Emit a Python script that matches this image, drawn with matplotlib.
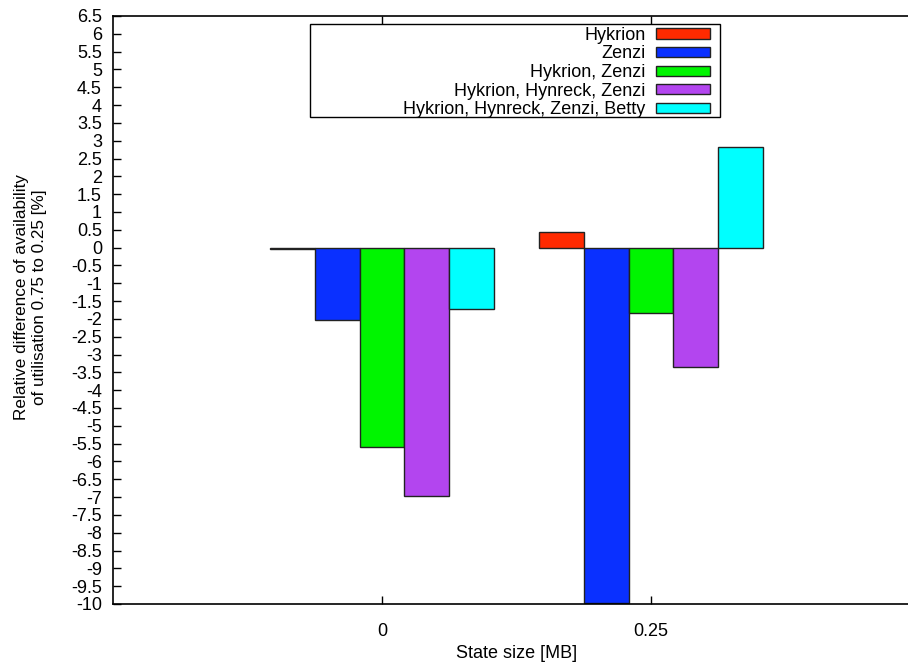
"""Relative availability difference bar chart (gnuplot-style)."""

import matplotlib
matplotlib.use("Agg")
import matplotlib.pyplot as plt
import numpy as np
from matplotlib.patches import Rectangle
from matplotlib.ticker import FixedLocator, FuncFormatter

plt.rcParams["font.family"] = ["Liberation Sans", "DejaVu Sans"]
plt.rcParams["font.size"] = 13

categories = ["0", "0.25"]
series_names = [
    "Hykrion",
    "Zenzi",
    "Hykrion, Zenzi",
    "Hykrion, Hynreck, Zenzi",
    "Hykrion, Hynreck, Zenzi, Betty",
]
values = [
    [-0.03, 0.43],
    [-2.04, -9.98],
    [-5.60, -1.83],
    [-6.97, -3.36],
    [-1.73, 2.81],
]
colors = ["#ff2a00", "#0a30ff", "#00f500", "#b345ef", "#00ffff"]
y_ticks = np.arange(-10, 6.51, 0.5)

W, H = 908, 666
fig = plt.figure(figsize=(W / 100, H / 100), dpi=100)
# axes box in pixels: left 113, right 920 (cut off), top 16, bottom 604
ax = fig.add_axes([113 / W, (H - 604) / H, (920 - 113) / W, (604 - 16) / H])

x = np.arange(len(categories))
width = 1 / 6
for i, (name, vals, c) in enumerate(zip(series_names, values, colors)):
    ax.bar(x + (i - 2) * width, vals, width, color=c, edgecolor="#222222",
           linewidth=1.0, label=name)

ax.set_xlim(-1, 2)
ax.set_ylim(-10, 6.5)
ax.set_xticks(x)
ax.set_xticklabels(categories)
ax.yaxis.set_major_locator(FixedLocator(y_ticks))
ax.yaxis.set_major_formatter(FuncFormatter(lambda v, p: f"{v:g}"))
ax.tick_params(direction="in", length=6, width=1, top=True, right=False)
ax.tick_params(axis="x", pad=14)
ax.tick_params(axis="y", pad=8)
for s in ax.spines.values():
    s.set_linewidth(1.2)
ax.spines["right"].set_visible(False)

ax.set_xlabel("State size [MB]", labelpad=3)
ax.set_ylabel("Relative difference of availability\nof utilisation 0.75 to 0.25 [%]",
              fontsize=12.3)
ax.yaxis.set_label_coords(-0.082, 0.522)

leg = ax.legend(loc="upper right", bbox_to_anchor=(0.756, 1.003),
                markerfirst=False, frameon=False, handlelength=3.0,
                handleheight=0.5, labelspacing=0.09, borderpad=0.2,
                handletextpad=0.6)
ax.add_patch(Rectangle((0.244, 0.828), 0.508, 0.158, transform=ax.transAxes,
                       fill=False, edgecolor="black", linewidth=1.0, zorder=5))

fig.savefig("out.png", dpi=100)
